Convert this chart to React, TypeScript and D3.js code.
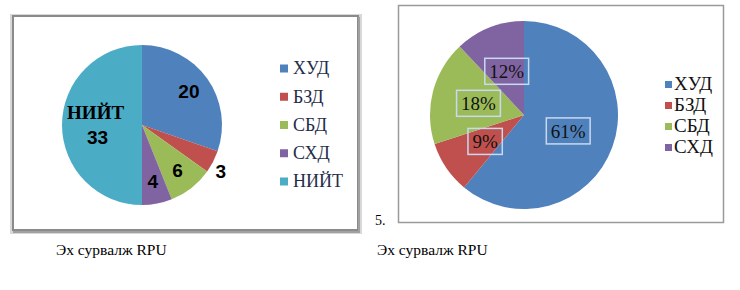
import React from "react";
import * as d3 from "d3";

const leftCategories = ["ХУД", "БЗД", "СБД", "СХД", "НИЙТ"];
const leftValues = [20, 3, 6, 4, 33];
const rightCategories = ["ХУД", "БЗД", "СБД", "СХД"];
const rightValues = [61, 9, 18, 12];
const colors = ["#4F81BD", "#C0504D", "#9BBB59", "#8064A2", "#4BACC6"];
const captionText = "Эх сурвалж RPU";
const figureNumber = "5.";

const serif = "Liberation Serif, Times New Roman, serif";
const sans = "Liberation Sans, Arial, sans-serif";

export default function App() {
  const pie = d3.pie<number>().sort(null).startAngle(0).endAngle(2 * Math.PI);

  // Left chart
  const lc = { x: 142, y: 125 };
  const lr = 80;
  const lArcs = pie(leftValues);
  const lArc = d3.arc<d3.PieArcDatum<number>>().innerRadius(0).outerRadius(lr);
  const lLabelArc = d3.arc<d3.PieArcDatum<number>>().innerRadius(lr * 0.72).outerRadius(lr * 0.72);
  const lOuterArc = d3.arc<d3.PieArcDatum<number>>().innerRadius(lr * 1.15).outerRadius(lr * 1.15);
  const lTotalArc = d3.arc<d3.PieArcDatum<number>>().innerRadius(lr * 0.58).outerRadius(lr * 0.58);
  const lLegendY = d3.scalePoint<string>().domain(leftCategories).range([68, 181]);

  // Right chart
  const rc = { x: 524, y: 115 };
  const rr = 94;
  const rArcs = pie(rightValues);
  const rArc = d3.arc<d3.PieArcDatum<number>>().innerRadius(0).outerRadius(rr);
  const rLabelArc = d3.arc<d3.PieArcDatum<number>>().innerRadius(rr * 0.5).outerRadius(rr * 0.5);
  const rLegendY = d3.scalePoint<string>().domain(rightCategories).range([83, 146]);
  const rTotal = d3.sum(rightValues);
  const pct = (v: number) => `${Math.round((v / rTotal) * 100)}%`;
  const fs = 19;
  const labelW = (s: string) => {
    let w = 0;
    for (const ch of s) w += ch === "%" ? 0.833 * fs : 0.5 * fs;
    return w + 9;
  };

  return (
    <svg width={740} height={290} style={{ position: "absolute", left: 0, top: 0, background: "#fff" }}>
      {/* Left frame */}
      <rect x={11.5} y={15.5} width={349} height={217} fill="none" stroke="#d8d8d8" strokeWidth={3} />
      <rect x={13} y={16} width={345} height={214} fill="#fff" stroke="#8a8a8a" strokeWidth={2} />
      <line x1={359} y1={17} x2={359} y2={232} stroke="#a0a0a0" strokeWidth={2} />
      <line x1={13} y1={232} x2={360} y2={232} stroke="#a0a0a0" strokeWidth={2} />

      <g transform={`translate(${lc.x},${lc.y})`}>
        {lArcs.map((a, i) => (
          <path key={i} d={lArc(a) || ""} fill={colors[i]} />
        ))}
        {lArcs.map((a, i) => {
          if (i === 4) {
            const [x, y] = lTotalArc.centroid(a);
            return (
              <g key={i}>
                <text x={x} y={y - 6} textAnchor="middle" style={{ fontFamily: serif }} fontWeight="bold" fontSize={19} fill="#000">
                  {leftCategories[i]}
                </text>
                <text x={x + 2} y={y + 19} textAnchor="middle" style={{ fontFamily: sans }} fontWeight="bold" fontSize={19} fill="#000">
                  {leftValues[i]}
                </text>
              </g>
            );
          }
          const [x, y] = i === 1 ? lOuterArc.centroid(a) : lLabelArc.centroid(a);
          return (
            <text key={i} x={x - (i === 1 ? 3 : 0)} y={y + (i === 1 ? 4 : 0)} dy="0.36em" textAnchor="middle" style={{ fontFamily: sans }} fontWeight="bold" fontSize={19} fill="#000">
              {leftValues[i]}
            </text>
          );
        })}
      </g>
      {leftCategories.map((c, i) => (
        <g key={c} transform={`translate(280,${lLegendY(c)})`}>
          <rect x={0} y={-3.5} width={8} height={8} fill={colors[i]} />
          <text x={13} y={0} dy="0.35em" style={{ fontFamily: serif }} fontSize={18} fill="#1f2d4a">
            {c}
          </text>
        </g>
      ))}

      {/* Right frame */}
      <rect x={398.5} y={5.5} width={325} height={217} fill="#fff" stroke="#9a9a9a" strokeWidth={1.5} />
      <g transform={`translate(${rc.x},${rc.y})`}>
        {rArcs.map((a, i) => (
          <path key={i} d={rArc(a) || ""} fill={colors[i]} />
        ))}
        {rArcs.map((a, i) => {
          const [x, y] = rLabelArc.centroid(a);
          const t = pct(a.data);
          const w = labelW(t);
          return (
            <g key={i} transform={`translate(${x},${y})`}>
              <rect x={-w / 2} y={-13} width={w} height={26} fill="none" stroke="#c9d9ef" strokeWidth={1.5} />
              <text x={0} y={0} dy="0.35em" textAnchor="middle" style={{ fontFamily: serif }} fontSize={fs} fill="#111">
                {t}
              </text>
            </g>
          );
        })}
      </g>
      {rightCategories.map((c, i) => (
        <g key={c} transform={`translate(665,${rLegendY(c)})`}>
          <rect x={0} y={-2} width={7} height={7} fill={colors[i]} />
          <text x={9} y={0} dy="0.35em" style={{ fontFamily: serif }} fontSize={19} fill="#111">
            {c}
          </text>
        </g>
      ))}
      <text x={375} y={225} style={{ fontFamily: serif }} fontSize={14} fill="#000">{figureNumber}</text>

      <text x={56} y={255} style={{ fontFamily: serif }} fontSize={15.5} fill="#000">{captionText}</text>
      <text x={377} y={255} style={{ fontFamily: serif }} fontSize={15.5} fill="#000">{captionText}</text>
    </svg>
  );
}
